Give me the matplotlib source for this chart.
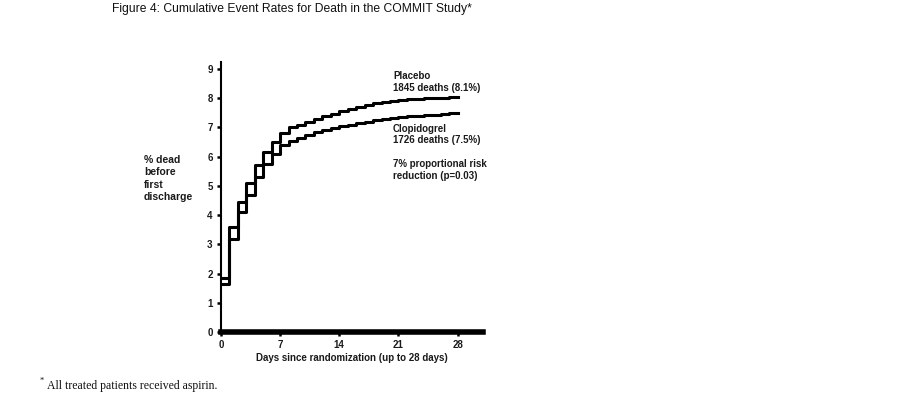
"""COMMIT study: cumulative event rates for death, placebo vs clopidogrel."""

import matplotlib
matplotlib.use("Agg")
import matplotlib.pyplot as plt

plt.rcParams["font.family"] = ["Liberation Sans", "DejaVu Sans"]

# day index (start of each daily step) and cumulative % dead
DAYS = list(range(0, 29))
PLACEBO = [1.85, 3.6, 4.45, 5.1, 5.7, 6.15, 6.5, 6.8, 7.0, 7.1, 7.2, 7.3, 7.4,
           7.47, 7.55, 7.62, 7.7, 7.76, 7.82, 7.87, 7.92, 7.95, 7.97, 7.99,
           8.0, 8.01, 8.02, 8.04, 8.05]
CLOPIDOGREL = [1.65, 3.2, 4.1, 4.7, 5.3, 5.75, 6.1, 6.4, 6.55, 6.65, 6.75,
               6.85, 6.92, 6.98, 7.04, 7.1, 7.15, 7.2, 7.25, 7.29, 7.33, 7.36,
               7.38, 7.4, 7.42, 7.44, 7.46, 7.48, 7.5]

X_TICKS = [0, 7, 14, 21, 28]
Y_TICKS = list(range(0, 10))

INK = "#1a1a1a"

fig = plt.figure(figsize=(9.23, 3.99), dpi=100)
ax = fig.add_axes([0.2394, 0.1679, 0.2839, 0.6767])

ax.step(DAYS, PLACEBO, where="post", color="black", linewidth=2.2)
ax.step(DAYS, CLOPIDOGREL, where="post", color="black", linewidth=2.2)

ax.set_xlim(0, 31)
ax.set_ylim(0, 9.24)
ax.set_xticks(X_TICKS)
ax.set_yticks(Y_TICKS)
ax.tick_params(axis="both", labelsize=7, length=3, width=1.8, pad=3)
for lab in ax.get_xticklabels() + ax.get_yticklabels():
    lab.set_fontweight("bold")
    lab.set_color(INK)

for side in ("top", "right"):
    ax.spines[side].set_visible(False)
ax.spines["left"].set_linewidth(1.5)
ax.spines["bottom"].set_linewidth(4)

ax.set_xlabel("Days since randomization (up to 28 days)", fontsize=7,
              fontweight="bold", color=INK, labelpad=2)

fig.text(0.156, 0.612, "% dead\nbefore\nfirst\ndischarge", fontsize=7.5,
         fontweight="bold", color=INK, va="top", ha="left",
         linespacing=1.3)

ax.text(20.35, 8.56, "Placebo\n1845 deaths (8.1%)", fontsize=7,
        fontweight="bold", color=INK, va="center", ha="left",
        linespacing=1.2)
ax.text(20.35, 6.76, "Clopidogrel\n1726 deaths (7.5%)", fontsize=7,
        fontweight="bold", color=INK, va="center", ha="left",
        linespacing=1.2)
ax.text(20.35, 5.55, "7% proportional risk\nreduction (p=0.03)", fontsize=7,
        fontweight="bold", color=INK, va="center", ha="left",
        linespacing=1.2)

fig.text(0.316, 0.978, "Figure 4: Cumulative Event Rates for Death in the COMMIT Study*",
         fontsize=8.7, color="#111111", ha="center", va="center")

fig.text(0.043, 0.035, "*", fontsize=6, color="#111111", ha="left",
         va="bottom", family=["Liberation Serif", "DejaVu Serif"])
fig.text(0.051, 0.032, "All treated patients received aspirin.", fontsize=8.5,
         color="#111111", ha="left", va="center",
         family=["Liberation Serif", "DejaVu Serif"])

fig.savefig("out.png", dpi=100)
